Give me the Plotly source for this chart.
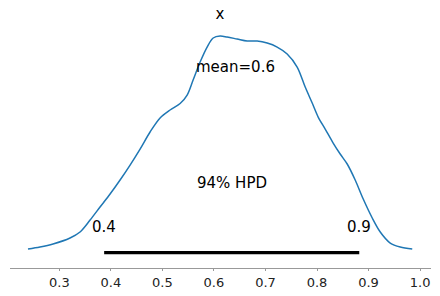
import plotly.graph_objects as go

# KDE of posterior for "x"
kde_x = [0.2392, 0.2625, 0.2878, 0.3208, 0.3402, 0.3597, 0.3790, 0.3985, 0.4179, 0.4373,
         0.4567, 0.4761, 0.4955, 0.5150, 0.5344, 0.5480, 0.5596, 0.5732, 0.5868, 0.5985,
         0.6120, 0.6256, 0.6450, 0.6645, 0.6839, 0.7033, 0.7227, 0.7421, 0.7615, 0.7771,
         0.7907, 0.8023, 0.8159, 0.8314, 0.8450, 0.8586, 0.8741, 0.8897, 0.9072, 0.9227,
         0.9421, 0.9615, 0.9848]
kde_y = [0.046, 0.071, 0.109, 0.184, 0.259, 0.409, 0.571, 0.734, 0.909, 1.096,
         1.296, 1.509, 1.684, 1.784, 1.865, 1.971, 2.159, 2.384, 2.571, 2.684,
         2.709, 2.696, 2.671, 2.646, 2.646, 2.621, 2.571, 2.484, 2.321, 2.071,
         1.871, 1.696, 1.546, 1.371, 1.234, 1.109, 0.909, 0.671, 0.434, 0.259,
         0.121, 0.071, 0.046]
hpd = [0.387, 0.882]
hpd_labels = ["0.4", "0.9"]
mean_val = 0.641
var_name = "x"
tick_vals = [0.3, 0.4, 0.5, 0.6, 0.7, 0.8, 0.9, 1.0]
tick_text = ["0.3", "0.4", "0.5", "0.6", "0.7", "0.8", "0.9", "1.0"]

peak = max(kde_y)
FONT = "DejaVu Sans"

fig = go.Figure()
fig.add_trace(go.Scatter(x=kde_x, y=kde_y, mode="lines",
                         line=dict(color="#1f77b4", width=1.5, shape="spline", smoothing=0.9),
                         hoverinfo="skip"))
fig.add_trace(go.Scatter(x=hpd, y=[0, 0], mode="lines",
                         line=dict(color="black", width=3.2), hoverinfo="skip"))

for v, t in zip(hpd, hpd_labels):
    fig.add_annotation(x=v, y=peak * 0.07, text=t, showarrow=False, yanchor="bottom",
                       xanchor="center", font=dict(family=FONT, size=15, color="black"))
fig.add_annotation(x=(hpd[0] + hpd[1]) / 2, y=peak * 0.32, text="94% HPD", showarrow=False,
                   yanchor="middle", xanchor="center", font=dict(family=FONT, size=15, color="black"))
fig.add_annotation(x=mean_val, y=peak * 0.857, text=f"mean={mean_val:.1f}", showarrow=False,
                   yanchor="middle", xanchor="center", font=dict(family=FONT, size=15, color="black"))

fig.update_layout(
    width=440, height=296,
    margin=dict(l=10, r=9, t=30, b=28, autoexpand=False),
    paper_bgcolor="white", plot_bgcolor="white",
    showlegend=False,
    title=dict(text=var_name, x=0.5, xanchor="center", y=1 - 14 / 296, yanchor="middle",
               font=dict(family=FONT, size=15, color="black")),
    xaxis=dict(range=[0.2043, 1.0212], tickvals=tick_vals, ticktext=tick_text, automargin=False,
               showgrid=False, zeroline=False, showline=True, linecolor="#999999", linewidth=1,
               ticks="outside", ticklen=2, tickcolor="#999999",
               tickfont=dict(family=FONT, size=13, color="#222222")),
    yaxis=dict(range=[-0.191, 2.784], visible=False, showgrid=False, zeroline=False,
               automargin=False),
)

fig.write_html("out.html")
